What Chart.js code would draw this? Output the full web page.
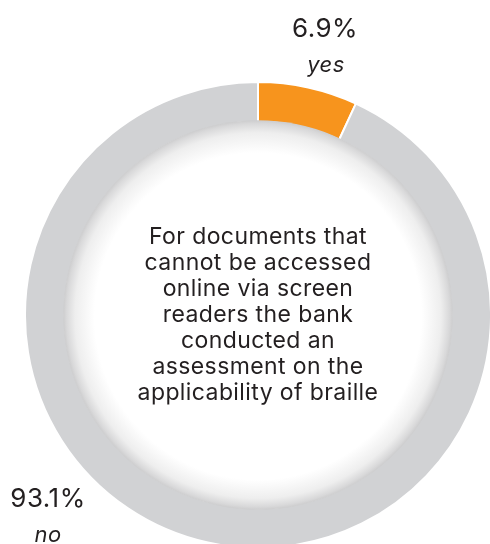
<!DOCTYPE html>
<html>
<head>
<meta charset="utf-8">
<script src="https://cdn.jsdelivr.net/npm/chart.js@4.4.1/dist/chart.umd.min.js"></script>
<style>
    html, body { margin: 0; padding: 0; background: #fff; overflow: hidden; }
    #wrap { position: relative; width: 490px; height: 544px; }
    #chart { position: absolute; left: 0; top: 0; }
    .lbl { position: absolute; color: #231f20; font-family: Inter, "Open Sans", sans-serif; text-align: center; }
    .pct { font-size: 26px; letter-spacing: 0.5px; }
    .cat { font-size: 22px; font-style: italic; letter-spacing: 0.5px; }
    #center { position: absolute; left: 58px; width: 400px; top: 223px; text-align: center;
        color: #231f20; font-family: Inter, "Open Sans", sans-serif; font-size: 23px; line-height: 26px; letter-spacing: 0.4px; }
</style>
</head>
<body>
<div id="wrap">
    <canvas id="chart" width="490" height="544"></canvas>
    <div class="lbl pct" id="pct0" style="left:275px; top:12px; width:100px;"></div>
    <div class="lbl cat" id="cat0" style="left:276px; top:51px; width:100px;"></div>
    <div class="lbl pct" id="pct1" style="left:-2px; top:482px; width:100px;"></div>
    <div class="lbl cat" id="cat1" style="left:-2px; top:521px; width:100px;"></div>
    <div id="center"></div>
</div>
<script>
// data
const categories = ['yes', 'no'];
const shares = [6.9, 93.1];
const colors = ['#f7941d', '#d1d2d4'];
const centerLines = [
    'For documents that',
    'cannot be accessed',
    'online via screen',
    'readers the bank',
    'conducted an',
    'assessment on the',
    'applicability of braille'
];

categories.forEach((c, i) => {
    document.getElementById('pct' + i).textContent = shares[i].toFixed(1) + '%';
    document.getElementById('cat' + i).textContent = c;
});
document.getElementById('center').innerHTML = centerLines.join('<br>');

// soft shaded disc inside the ring
const innerShade = {
    id: 'innerShade',
    afterDatasetsDraw(chart) {
        const arc = chart.getDatasetMeta(0).data[0];
        if (!arc) return;
        const { x, y, innerRadius } = arc.getProps(['x', 'y', 'innerRadius'], true);
        const r = innerRadius + 1.5;
        const ctx = chart.ctx;
        ctx.save();
        const g = ctx.createRadialGradient(x, y + 8, 0, x, y, r);
        g.addColorStop(0, '#ffffff');
        g.addColorStop(0.84, '#ffffff');
        g.addColorStop(0.94, '#eeeeee');
        g.addColorStop(0.985, '#d8d8d9');
        g.addColorStop(1, '#cdcdce');
        ctx.fillStyle = g;
        ctx.beginPath();
        ctx.arc(x, y, r, 0, Math.PI * 2);
        ctx.fill();
        ctx.restore();
    }
};

new Chart(document.getElementById('chart'), {
    type: 'doughnut',
    data: {
        labels: categories,
        datasets: [{
            data: shares,
            backgroundColor: colors,
            borderColor: '#ffffff',
            borderWidth: 2,
            radius: 233,
            cutout: 189
        }]
    },
    options: {
        responsive: false,
        animation: false,
        layout: { padding: { left: 26, top: 86, right: 0, bottom: 0 } },
        plugins: {
            legend: { display: false },
            tooltip: { enabled: false }
        }
    },
    plugins: [innerShade]
});
</script>
</body>
</html>
